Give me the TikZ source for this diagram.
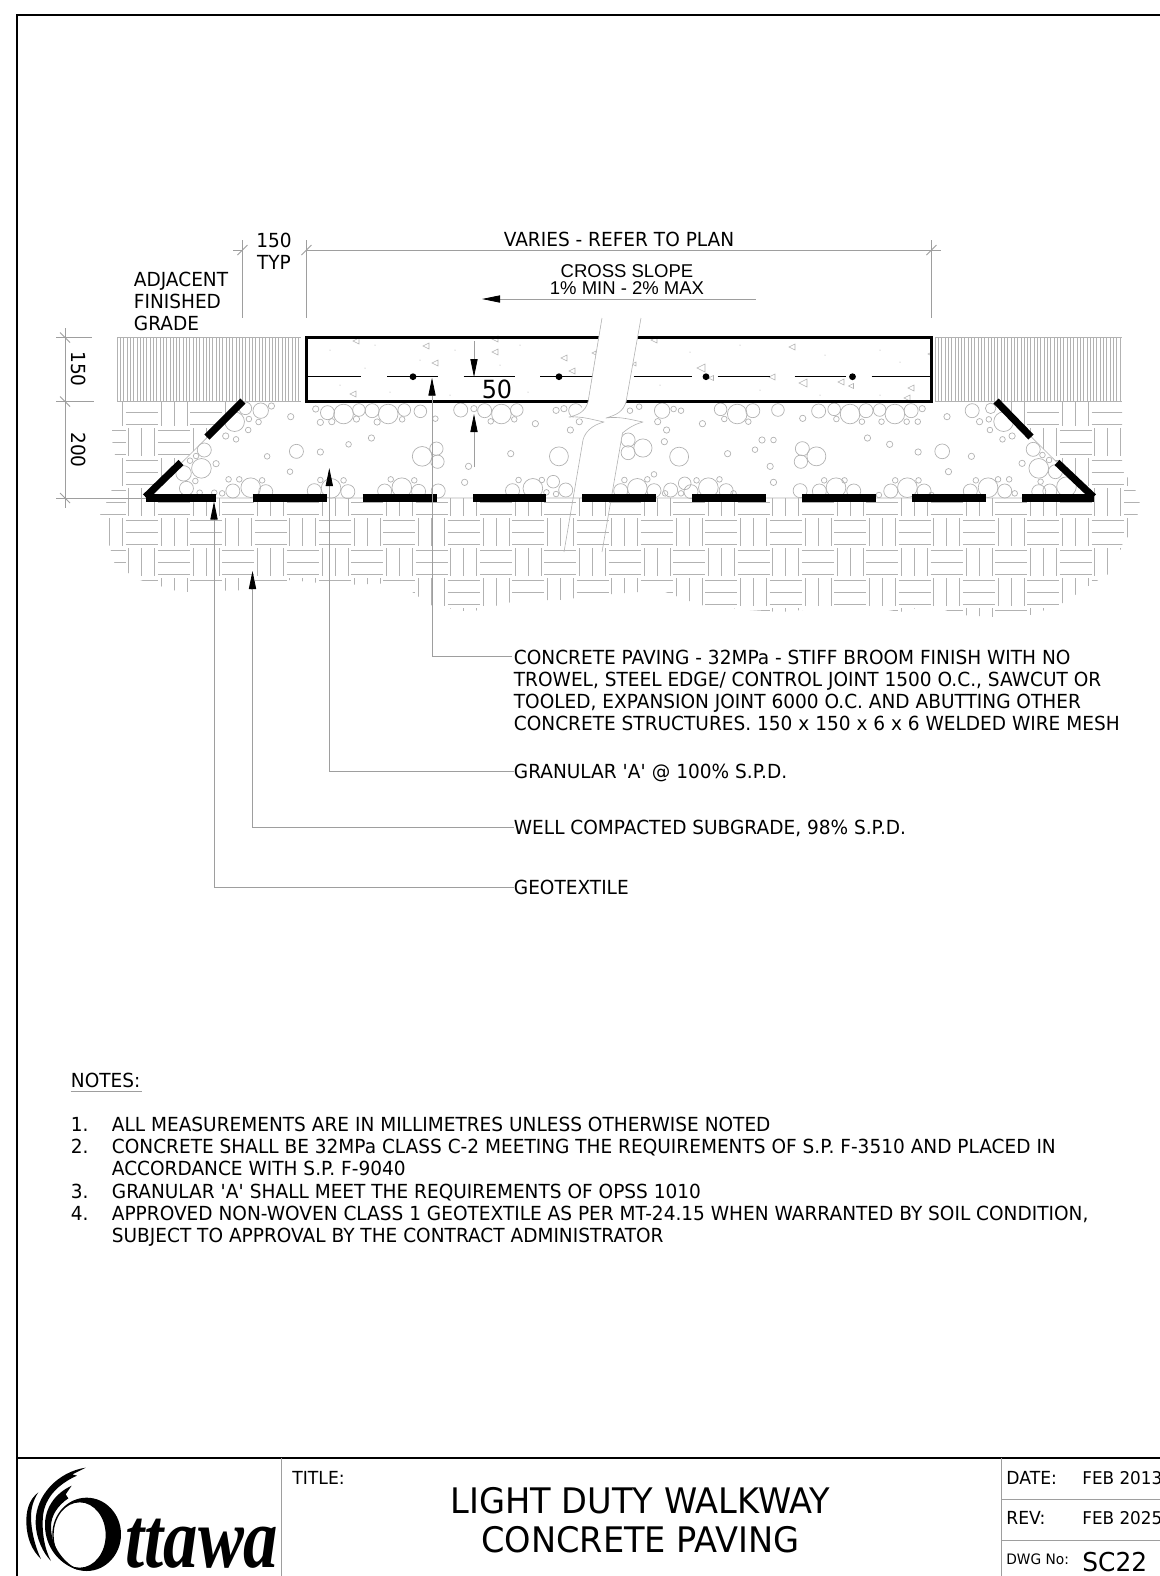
\documentclass[tikz,border=0pt]{standalone}
\usepackage{fontspec}
\setmainfont[FakeStretch=0.955]{DejaVu Sans}
\newfontfamily\sansarial{Liberation Sans}
\newfontfamily\logofont[FakeStretch=0.8]{Liberation Serif}
\usepackage{tikz}
\usetikzlibrary{arrows.meta}
\definecolor{cadgrey}{gray}{0.62}
\definecolor{hatchgrey}{gray}{0.7}
\tikzstyle{hatchline} = [draw=hatchgrey, line width=.3pt]
\tikzstyle{gradeline} = [draw=hatchgrey, line width=.22pt]
\tikzstyle{gravel} = [draw=hatchgrey, line width=.35pt]
\tikzstyle{dimline} = [draw=cadgrey, line width=.4pt]
\tikzstyle{leaderline} = [draw=cadgrey, line width=.4pt, -{Triangle[length=9pt,width=3.6pt,color=black]}]
\tikzstyle{geotextile} = [draw=black, line width=3.6pt]
\tikzstyle{slab} = [draw=black, line width=1.1pt]
\tikzstyle{meshline} = [draw=black, line width=.6pt]
\tikzstyle{label} = [inner sep=0pt, text depth=0pt, anchor=north west, align=left, font=\fontsize{9.7}{11}\selectfont]
\tikzstyle{dimtext} = [inner sep=0pt, font=\fontsize{9.7}{11}\selectfont]
\tikzstyle{blockline} = [draw=cadgrey, line width=.5pt]
\begin{document}
\begin{tikzpicture}[x=.5pt, y=-.5pt]
	\useasboundingbox (0,0) rectangle (1160,1576);
	
	\begin{scope}
		\clip (116,402) -- (243,402) -- (146,498) -- (1093,498) -- (996,402) -- (1122,402) -- (1122,470) -- (1133,485) -- (1140,500) -- (1136,525) -- (1122,545) -- (1115,570) -- (1090,585) -- (1060,605) -- (1030,615) -- (995,617) -- (960,615) -- (930,605) -- (900,612) -- (860,605) -- (780,612) -- (750,610) -- (700,605) -- (660,590) -- (640,592) -- (600,595) -- (560,600) -- (520,600) -- (470,612) -- (430,605) -- (400,583) -- (340,585) -- (290,580) -- (250,590) -- (180,592) -- (140,580) -- (115,565) -- (105,530) -- (100,515) -- (110,495) -- (118,470) -- (112,440) -- (112,420) -- cycle;
		\foreach \col in {0,...,33} {
			\foreach \row in {0,...,8} {
				\ifodd\numexpr\col+\row\relax
				\foreach \off in {3,15,27}
				\path [hatchline] ({93.5+32.2*\col},{397+30*\row+\off}) -- ++(32,0);
				\else
				\foreach \off in {3,16,29}
				\path [hatchline] ({93.5+32.2*\col+\off},{397+30*\row+1}) -- ++(0,28);
				\fi
			}
		}
	\end{scope}
	
	\foreach \x in {117,120.3,...,301} \path [gradeline] (\x,337.5) -- (\x,401.5);
	\foreach \x in {935,938.3,...,1122} \path [gradeline] (\x,337.5) -- (\x,401.5);
	\path [gradeline] (117,337.5) -- (301,337.5);
	\path [hatchline] (117,401.5) -- (301,401.5);
	\path [gradeline] (935,337.5) -- (1122,337.5);
	\path [hatchline] (935,401.5) -- (1122,401.5);
	
	\foreach \a/\b/\r in {772/567/9,805/578/20,850/582/28,893/570/18,930/572/20,975/582/28,1020/570/18,1065/574/18,785/607/9,817/605/9,886/597/9,944/606/9,1014/598/8,1107/596/8,1178/570/20,1215/566/9,1245/572/20,1292/582/28,1335/570/18,1262/604/8,1328/598/8,1387/611/9,1445/571/9,1467/566/9,1500/572/20,1510/605/9,1485/630/9,575/565/18,618/572/22,648/558/9,545/605/28,585/597/8,612/606/8,583/630/8,520/648/9,549/658/8,702/590/9,718/694/20,636/709/8,785/696/9,700/755/8,864/673/8,928/654/9,1070/709/28,1110/686/19,1113/725/19,1318/701/9,1453/709/27,1200/739/9,1189/787/9,460/690/20,437/708/8,420/722/8,452/745/28,402/760/22,493/731/9,435/783/8,410/805/20,447/818/8,528/778/8,558/778/8,622/781/8,590/803/28,540/813/20,510/820/8,488/818/8,632/815/20,768/812/20,815/805/28,862/815/20,785/780/8,850/781/8,965/813/20,1013/803/28,1060/814/20,982/778/8,1048/781/8,1115/813/20,1340/780/8,1405/780/8,1323/812/20,1380/805/28,1437/785/18,1472/810/20,1418/817/8,1445/822/8}
	\path [gravel] ({40+\a/2.8},{220+\b/3}) circle ({\r/2.85});
	\foreach \a/\b/\r in {135/572/8,160/560/8,222/572/22,253/567/8,273/572/8,210/605/9,234/630/9,228/665/9,130/660/20,130/698/20,170/684/26,268/710/27,331/611/9,380/568/18,425/582/28,467/572/20,535/570/18,390/597/8,455/605/8,492/660/9,523/660/8,473/689/8,399/701/9,514/739/9,523/787/9,602/595/9,645/573/20,687/568/18,730/582/28,773/572/20,810/570/18,851/582/28,895/572/20,925/566/9,693/597/8,762/605/8,815/605/8,883/605/8,913/605/8,777/654/9,837/673/9,914/696/9,979/694/21,1058/709/9,996/755/9,601/686/20,639/709/27,597/725/19,992/590/9,1060/572/20,1110/565/15,1080/605/9,1105/598/8,1108/630/8,1145/605/28,1142/658/8,1168/648/9,1225/688/20,1250/705/8,1268/720/8,1240/745/28,1195/730/9,1285/755/20,1315/800/28,120/780/8,182/778/8,200/763/8,155/805/28,110/812/20,200/812/20,230/820/8,245/810/20,283/790/18,273/820/8,300/815/20,315/781/8,347/803/28,395/812/20,377/778/8,415/820/8,660/781/8,715/781/8,595/812/20,647/813/20,692/803/28,740/813/20,852/781/8,915/781/8,808/825/8,840/813/20,885/803/28,930/813/20,950/825/8,1070/781/8,1130/778/8,1160/778/8,1055/813/20,1103/803/28,1148/813/20,1175/820/8,1245/785/8,1240/815/20,1270/813/20}
	\path [gravel] ({580+\a/2.703},{220+\b/3}) circle ({\r/2.85});
	
	\path [hatchline] (243,402) -- (146,498) -- (1093,498) -- (996,402);
	
	\foreach \x/\y/\s in {356/341/3,426/346/3,435/363/3,495/352/3,564/358/3,572/371/3,353/394/3,495/339/3,654/340/3,792/347/3,701/368/4,711/378/2.5,772/377/3,803/383/4,841/382/3,851/386/2.5,911/388/3,907/398/3,930/354/2,594/353/2,634/364/2}
	\path [hatchline] (\x-\s,\y) -- (\x+\s,\y-\s) -- (\x+\s,\y+\s) -- cycle;
	\foreach \x/\y in {330/350,375/345,390/392,340/385,420/360,455/350,450/395,520/345,528/392,610/360,660/385,690/352,740/345,760/390,825/355,820/395,880/350,900/362,880/395,365/368,500/365}
	\fill [cadgrey] (\x,\y) circle (.5);
	
	\coordinate (slabnw) at (306.5,337.5);
	\coordinate (slabse) at (931.5,401.5);
	\path [slab] (slabnw) rectangle (slabse);
	\foreach \from/\to in {307/361,387/437.5,463.5/515,540/594,633.5/692,717.5/770,794.5/846,871.5/931.5}
	\path [meshline] (\from,376.7) -- (\to,376.7);
	\foreach \x in {413,559,706,852.5}
	\fill (\x,376.7) circle (3.4);
	
	\fill [white] (599,336) -- (588,403) -- (569,417) -- (604,422) -- (583,440) -- (573,496) -- (611,496) -- (622.5,433) -- (643,422) -- (606,418) -- (626,403) -- (638,336) -- cycle;
	\path [hatchline, line join=round] (602,318) -- (588,402) .. controls (585,412) and (578,415) .. (569,417) .. controls (582,416) and (594,420) .. (604,422) .. controls (592,425) and (585,432) .. (583,440) -- (564,552);
	\path [hatchline, line join=round] (641,318) -- (626,402) .. controls (623,412) and (616,415) .. (606,418) .. controls (620,416) and (632,420) .. (643,422) .. controls (631,425) and (624,432) .. (622.5,433) -- (602,552);
	
	\foreach \from/\to in {146/216,252.5/326.5,362.5/436.5,473/545.5,582/655.5,692/765.5,802/875.5,912/985.5,1022/1094}
	\path [geotextile] (\from,498) -- (\to,498);
	\path [geotextile] (145.5,497) -- (181,462.5);
	\path [geotextile] (207,437) -- (243,401);
	\path [geotextile] (996,401) -- (1031,437);
	\path [geotextile] (1057,462.5) -- (1093.5,497);
	
	\coordinate (dimleft) at (242.5,250);
	\coordinate (dimslab) at (306.5,250);
	\coordinate (dimright) at (931.5,250);
	\path [dimline] (233,250) -- (dimleft);
	\path [dimline] (dimslab) -- (940.5,250);
	\path [dimline] (242.5,240) -- (242.5,318);
	\path [dimline] (306.5,240) -- (306.5,318);
	\path [dimline] (931.5,240) -- (931.5,318);
	\foreach \c in {dimleft,dimslab,dimright}
	\path [dimline] (\c) ++(-5,5) -- ++(10,-10);
	
	\coordinate (sidetop) at (65,337.5);
	\coordinate (sidemid) at (65,401.5);
	\coordinate (sidelow) at (65,498);
	\path [dimline] (65,328) -- (65,508);
	\path [dimline] (56,337.5) -- (92,337.5);
	\path [dimline] (56,401.5) -- (94,401.5);
	\path [dimline] (56,498) -- (146,498);
	\foreach \c in {sidetop,sidemid,sidelow}
	\path [dimline] (\c) ++(-5,-5) -- ++(10,10);
	
	\node [dimtext] (widthtext) at (274,240) {150};
	\node [dimtext] (typtext) at (274,262) {TYP};
	\node [dimtext] (variestext) at (619,239) {VARIES - REFER TO PLAN};
	\node [dimtext, rotate=-90] (depthslab) at (78.5,369) {150};
	\node [dimtext, rotate=-90] (depthbase) at (78.5,450) {200};
	\node [label] (gradetext) at (133.5,272) {ADJACENT\\FINISHED\\GRADE};
	\node [inner sep=0pt, align=center, font=\sansarial\fontsize{9.25}{8.5}\selectfont] (slopetext) at (627,279.5) {CROSS SLOPE\\1\% MIN - 2\% MAX};
	\node [inner sep=0pt, font=\fontsize{12.5}{14}\selectfont] (fiftytext) at (497,389.5) {50};
	
	\coordinate (slopestart) at (755.5,299);
	\coordinate (slopeend) at (482,299);
	\path [leaderline] (slopestart)--(slopeend);
	
	\coordinate (fiftytop) at (474,341);
	\coordinate (fiftyupper) at (474,377);
	\coordinate (fiftybottom) at (474,467);
	\coordinate (fiftylower) at (474,414);
	\path [leaderline] (fiftytop)--(fiftyupper);
	\path [leaderline] (fiftybottom)--(fiftylower);
	
	\node [label] (pavinglabel) at (513.5,650) {CONCRETE PAVING - 32MPa - STIFF BROOM FINISH WITH NO\\TROWEL, STEEL EDGE/ CONTROL JOINT 1500 O.C., SAWCUT OR\\TOOLED, EXPANSION JOINT 6000 O.C. AND ABUTTING OTHER\\CONCRETE STRUCTURES. 150 x 150 x 6 x 6 WELDED WIRE MESH};
	\node [label] (granularlabel) at (513.5,764) {GRANULAR \textquotesingle A\textquotesingle\ @ 100\% S.P.D.};
	\node [label] (subgradelabel) at (513.5,820) {WELL COMPACTED SUBGRADE, 98\% S.P.D.};
	\node [label] (geolabel) at (513.5,880) {GEOTEXTILE};
	
	\coordinate (pavingknee) at (512,656);
	\coordinate (pavingtip) at (432,377.7);
	\coordinate (granulartip) at (329.3,468);
	\coordinate (subgradetip) at (252.5,571);
	\coordinate (geotip) at (214,501.5);
	\path [leaderline] (pavingknee) -| (pavingtip);
	\path [leaderline] (granularlabel.west) -| (granulartip);
	\path [leaderline] (subgradelabel.west) -| (subgradetip);
	\path [leaderline] (geolabel.west) -| (geotip);
	
	\node [label] (noteshead) at (70.5,1072.5) {NOTES:};
	\path [dimline] (noteshead.south west) ++(0,4) -- ++(71,0);
	\node [label] (numone) at (70.5,1117) {1.};
	\node [label] (numtwo) at (70.5,1139) {2.};
	\node [label] (numthree) at (70.5,1183.5) {3.};
	\node [label] (numfour) at (70.5,1205.5) {4.};
	\node [label] (noteone) at (111.5,1117) {ALL MEASUREMENTS ARE IN MILLIMETRES UNLESS OTHERWISE NOTED};
	\node [label] (notetwo) at (111.5,1139) {CONCRETE SHALL BE 32MPa CLASS C-2 MEETING THE REQUIREMENTS OF S.P. F-3510 AND PLACED IN\\ACCORDANCE WITH S.P. F-9040};
	\node [label] (notethree) at (111.5,1183.5) {GRANULAR \textquotesingle A\textquotesingle\ SHALL MEET THE REQUIREMENTS OF OPSS 1010};
	\node [label] (notefour) at (111.5,1205.5) {APPROVED NON-WOVEN CLASS 1 GEOTEXTILE AS PER MT-24.15 WHEN WARRANTED BY SOIL CONDITION,\\SUBJECT TO APPROVAL BY THE CONTRACT ADMINISTRATOR};
	
	\draw [line width=.9pt] (17,1576) -- (17,15) -- (1160,15);
	\draw [line width=1.2pt] (17,1458) -- (1160,1458);
	\path [blockline] (281,1458) -- (281,1576);
	\path [blockline] (1001.5,1458) -- (1001.5,1576);
	\path [blockline] (1001.5,1499) -- (1160,1499);
	\path [blockline] (1001.5,1540) -- (1160,1540);
	
	\node [label, font=\fontsize{9}{11}\selectfont] (titlehead) at (292,1471) {TITLE:};
	\node [inner sep=0pt, font=\fontsize{17.6}{19}\selectfont] (titleone) at (640.5,1500.5) {LIGHT DUTY WALKWAY};
	\node [inner sep=0pt, font=\fontsize{17.6}{19}\selectfont] (titletwo) at (640.5,1540) {CONCRETE PAVING};
	\node [label, font=\fontsize{9}{11}\selectfont] (datehead) at (1006,1471) {DATE:};
	\node [label, font=\fontsize{8.8}{11}\selectfont] (datevalue) at (1082,1471) {FEB 2013};
	\node [label, font=\fontsize{9}{11}\selectfont] (revhead) at (1006,1511) {REV:};
	\node [label, font=\fontsize{8.8}{11}\selectfont] (revvalue) at (1082,1511) {FEB 2025};
	\node [label, font=\fontsize{7.2}{9}\selectfont] (dwghead) at (1006,1553) {DWG No:};
	\node [label, font=\fontsize{13}{15}\selectfont] (dwgvalue) at (1082,1552) {SC22};
	
	\begin{scope}[shift={(15,1455)}, scale=1/3]
		\fill [even odd rule] (215,238) ellipse (103 and 110) (194,240) ellipse (78 and 98);
		\fill (212,38) .. controls (130,50) and (62,120) .. (62,200) .. controls (62,250) and (85,295) .. (108,318) .. controls (90,285) and (78,230) .. (85,175) .. controls (95,115) and (145,80) .. (186,62) -- (172,58) -- cycle;
		\fill (170,92) .. controls (120,115) and (88,160) .. (90,215) .. controls (92,270) and (125,325) .. (190,345) .. controls (135,315) and (108,265) .. (108,215) .. controls (108,180) and (130,150) .. (160,130) -- (152,118) -- cycle;
		\fill (70,112) .. controls (40,135) and (33,170) .. (34,205) .. controls (36,250) and (50,285) .. (78,312) .. controls (60,275) and (48,225) .. (48,185) .. controls (48,160) and (55,135) .. (70,112) -- cycle;
		\node [inner sep=0pt, text depth=0pt, anchor=base west, font=\logofont\bfseries\itshape\fontsize{43}{43}\selectfont] (logotext) at (330,338) {ttawa};
	\end{scope}
\end{tikzpicture}
\end{document}
